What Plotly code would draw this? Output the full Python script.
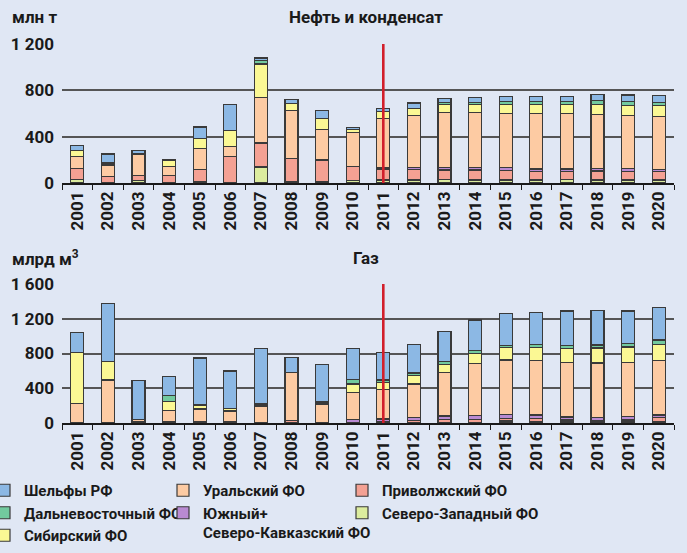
import plotly.graph_objects as go

years = [str(y) for y in range(2001, 2021)]
marker_year = "2011"

# Нефть и конденсат, млн т
oil_sz  = [30, 0, 23, 0, 15, 0, 138, 10, 10, 25, 26, 26, 32, 26, 26, 26, 29, 26, 26, 26]
oil_pf  = [95, 55, 43, 63, 100, 228, 208, 200, 189, 115, 95, 92, 81, 87, 84, 75, 72, 78, 75, 75]
oil_yu  = [0, 0, 0, 0, 0, 0, 0, 0, 0, 0, 15, 18, 23, 23, 23, 20, 20, 20, 23, 17]
oil_ur  = [105, 100, 185, 78, 180, 86, 390, 413, 265, 295, 418, 444, 470, 473, 470, 476, 476, 467, 462, 459]
oil_sib = [50, 17, 0, 52, 90, 136, 291, 61, 96, 26, 60, 66, 72, 69, 78, 81, 81, 90, 86, 95]
oil_df  = [0, 0, 0, 9, 0, 0, 32, 0, 0, 0, 5, 0, 17, 20, 23, 26, 26, 32, 32, 26]
oil_sh  = [45, 78, 32, 0, 98, 231, 20, 37, 69, 20, 26, 44, 35, 41, 46, 46, 46, 49, 55, 58]

# Газ, млрд м3
gas_sz  = [0, 0, 0, 0, 0, 0, 0, 0, 0, 0, 0, 0, 0, 0, 23, 20, 15, 15, 15, 20]
gas_pf  = [0, 0, 15, 19, 15, 15, 0, 27, 8, 8, 15, 27, 42, 42, 31, 30, 20, 16, 20, 41]
gas_yu  = [0, 0, 0, 0, 0, 0, 0, 0, 0, 34, 31, 34, 39, 46, 42, 42, 34, 30, 38, 31]
gas_ur  = [223, 495, 25, 127, 146, 123, 196, 552, 211, 311, 338, 388, 498, 595, 629, 630, 629, 629, 621, 626]
gas_sib = [587, 215, 0, 100, 46, 27, 23, 0, 23, 96, 84, 100, 96, 115, 142, 149, 157, 173, 181, 188]
gas_df  = [0, 0, 0, 72, 0, 0, 0, 0, 0, 54, 27, 27, 31, 35, 23, 31, 35, 35, 42, 49]
gas_sh  = [234, 664, 450, 219, 541, 434, 641, 177, 429, 357, 318, 326, 345, 353, 372, 368, 399, 395, 372, 376]

oil_ticks = [0, 400, 800, 1200]
oil_ticktext = ["0", "400", "800", "1 200"]
gas_ticks = [0, 400, 800, 1200, 1600]
gas_ticktext = ["0", "400", "800", "1 200", "1 600"]

FONT = "Roboto, Liberation Sans Narrow, sans-serif"
BG = "#e0e7f4"

# series: name, oil, gas, fill, legend, rank
series = [
    ("Северо-Западный ФО", oil_sz, gas_sz, "#dcec9e", "legend3", 2),
    ("Приволжский ФО", oil_pf, gas_pf, "#f4a193", "legend3", 1),
    ("Южный+<br>Северо-Кавказский ФО", oil_yu, gas_yu, "#b98ad2", "legend2", 2),
    ("Уральский ФО", oil_ur, gas_ur, "#fdcba3", "legend2", 1),
    ("Сибирский ФО", oil_sib, gas_sib, "#fbf894", "legend", 3),
    ("Дальневосточный ФО", oil_df, gas_df, "#72ca9e", "legend", 2),
    ("Шельфы РФ", oil_sh, gas_sh, "#8cb8e4", "legend", 1),
]

W, H = 687, 553
L, R = 62, 13

def px2x(px):
    return (px - L) / (W - L - R)

def px2y(py):
    return 1 - py / H

fig = go.Figure()
for name, ov, gv, col, lg, rank in series:
    fig.add_trace(go.Bar(
        x=years, y=ov, name=name, marker=dict(color=col, line=dict(color="#3a3a3a", width=1.2)),
        xaxis="x", yaxis="y", legend=lg, legendrank=rank, legendgroup=name, showlegend=True,
        hoverinfo="skip"))
    fig.add_trace(go.Bar(
        x=years, y=gv, name=name, marker=dict(color=col, line=dict(color="#3a3a3a", width=1.2)),
        xaxis="x2", yaxis="y2", legend=lg, legendrank=rank, legendgroup=name, showlegend=False,
        hoverinfo="skip"))

tickfont = dict(family=FONT, size=17, color="#1a1a1a", weight=700)

xcommon = dict(type="category", categoryorder="array", categoryarray=years,
               tickson="boundaries", ticks="outside", ticklen=5,
               tickcolor="#1a1a1a", tickwidth=1.3, showline=True, linecolor="#1a1a1a",
               linewidth=1.5, tickangle=-90, tickfont=tickfont, showgrid=False,
               range=[-0.5, len(years) - 0.5], domain=[0, 1], fixedrange=True,
               automargin=False)
ycommon = dict(showgrid=True, gridcolor="#555555", gridwidth=1.6, zeroline=False,
               ticks="", tickfont=tickfont, ticklabelstandoff=7, fixedrange=True,
               automargin=False)

legcommon = dict(orientation="v", traceorder="normal", valign="top",
                 font=dict(family=FONT, size=15, color="#1a1a1a", weight=700),
                 bgcolor="rgba(0,0,0,0)", tracegroupgap=0, itemwidth=30,
                 xanchor="left", yanchor="top", itemclick=False, itemdoubleclick=False)

fig.update_layout(
    width=W, height=H,
    margin=dict(l=L, r=R, t=0, b=0, autoexpand=False),
    paper_bgcolor=BG, plot_bgcolor=BG,
    barmode="stack", bargap=0.57,
    xaxis=dict(xcommon, anchor="y"),
    yaxis=dict(ycommon, range=[0, 1200], tickvals=oil_ticks, ticktext=oil_ticktext,
               domain=[px2y(183), px2y(44)], anchor="x"),
    xaxis2=dict(xcommon, anchor="y2"),
    yaxis2=dict(ycommon, range=[0, 1600], tickvals=gas_ticks, ticktext=gas_ticktext,
                domain=[px2y(423), px2y(284)], anchor="x2"),
    legend=dict(legcommon, x=px2x(-16), y=px2y(474)),
    legend2=dict(legcommon, x=px2x(163), y=px2y(474)),
    legend3=dict(legcommon, x=px2x(342), y=px2y(474)),
    showlegend=True,
)

annfont = dict(family=FONT, size=17, color="#1a1a1a", weight=700)
fig.add_annotation(text="млн т", x=px2x(10), y=px2y(17), xref="paper", yref="paper",
                   xanchor="left", yanchor="middle", showarrow=False, font=annfont)
fig.add_annotation(text="Нефть и конденсат", x=0.497, y=px2y(17), xref="paper", yref="paper",
                   xanchor="center", yanchor="middle", showarrow=False, font=annfont)
fig.add_annotation(text="млрд м<sup>3</sup>", x=px2x(10), y=px2y(258), xref="paper", yref="paper",
                   xanchor="left", yanchor="middle", showarrow=False, font=annfont)
fig.add_annotation(text="Газ", x=0.497, y=px2y(258), xref="paper", yref="paper",
                   xanchor="center", yanchor="middle", showarrow=False, font=annfont)

mi = years.index(marker_year)
for xr, yr in (("x", "y"), ("x2", "y2")):
    fig.add_shape(type="line", xref=xr, yref=yr + " domain", x0=mi, x1=mi, y0=0, y1=1,
                  line=dict(color="#d21f2b", width=2.6), layer="above")

fig.write_html(
    "out.html",
    config={"displayModeBar": False},
    post_script="document.body.style.margin='0';document.body.style.background='%s';" % BG,
)
